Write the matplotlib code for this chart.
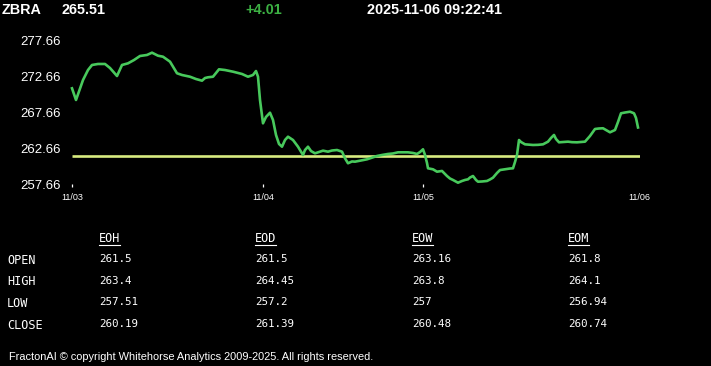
import matplotlib
matplotlib.use("Agg")
import matplotlib.pyplot as plt
from matplotlib.lines import Line2D

W, H = 711, 366
DPI = 100

# header
symbol = "ZBRA"
last_price = "265.51"
change = "+4.01"
stamp = "2025-11-06 09:22:41"

# intraday series (time index along the session axis, price)
t = [0, 4, 11, 16, 20, 26, 33, 38, 45, 50, 56, 62, 68, 75, 80, 86, 91, 98, 105, 110,
     118, 124, 130, 133, 136, 141, 147, 153, 161, 170, 176, 181, 184, 186, 188, 191,
     194, 198, 201, 204, 207, 210, 213, 216, 221, 226, 231, 233, 236, 239, 243, 247,
     251, 256, 260, 265, 270, 273, 276, 280, 283, 289, 295, 299, 305, 310, 316, 321,
     326, 331, 336, 341, 345, 348, 351, 353, 355, 356, 361, 365, 370, 375, 378, 381,
     386, 390, 393, 396, 398, 401, 404, 406, 410, 415, 418, 421, 425, 428, 435, 438,
     441, 443, 445, 447, 449, 453, 461, 466, 471, 476, 479, 482, 484, 487, 491, 496,
     500, 505, 509, 513, 518, 523, 527, 531, 535, 538, 543, 546, 549, 553, 558, 562,
     564, 566]
price = [270.95, 269.33, 272.10, 273.49, 274.19, 274.33, 274.33, 273.77, 272.66, 274.19,
         274.42, 274.88, 275.44, 275.58, 275.90, 275.48, 275.34, 274.65, 273.04, 272.80,
         272.56, 272.24, 272.01, 272.38, 272.48, 272.56, 273.59, 273.49, 273.26, 272.94,
         272.56, 272.80, 273.35, 272.56, 269.33, 266.09, 266.97, 267.56, 266.55, 264.47,
         263.22, 262.84, 263.77, 264.23, 263.77, 262.84, 261.69, 262.38, 262.84, 262.24,
         261.92, 262.10, 262.29, 262.15, 262.31, 262.38, 262.15, 261.23, 260.54, 260.79,
         260.76, 260.92, 261.09, 261.27, 261.55, 261.69, 261.83, 261.90, 262.06, 262.06,
         262.06, 261.97, 261.83, 262.10, 262.48, 261.69, 260.58, 259.84, 259.70, 259.37,
         259.47, 258.77, 258.42, 258.22, 257.84, 258.08, 258.22, 258.31, 258.56, 258.77,
         258.22, 257.98, 258.01, 258.08, 258.29, 258.54, 259.19, 259.60, 259.74, 259.81,
         259.84, 260.72, 261.69, 263.77, 263.49, 263.17, 263.08, 263.10, 263.17, 263.54,
         264.05, 264.47, 263.91, 263.45, 263.49, 263.54, 263.47, 263.45, 263.49, 263.54,
         264.33, 265.30, 265.37, 265.40, 265.09, 264.84, 265.16, 266.27, 267.48, 267.59,
         267.70, 267.48, 266.83, 265.51]
ref_level = 261.5

y_ticks = [257.66, 262.66, 267.66, 272.66, 277.66]
day_pos = [0, 191, 351, 567]
day_labels = ["11/03", "11/04", "11/05", "11/06"]

# summary table
columns = ["EOH", "EOD", "EOW", "EOM"]
rows = ["OPEN", "HIGH", "LOW", "CLOSE"]
eoh = ["261.5", "263.4", "257.51", "260.19"]
eod = ["261.5", "264.45", "257.2", "261.39"]
eow = ["263.16", "263.8", "257", "260.48"]
eom = ["261.8", "264.1", "256.94", "260.74"]

footer = "FractonAI \u00a9 copyright Whitehorse Analytics 2009-2025. All rights reserved."

GREEN = "#48c95c"
YELLOW = "#d8ec80"


def fx(px):
    return px / W


def fy(py):
    return 1 - py / H


fig = plt.figure(figsize=(W / DPI, H / DPI), dpi=DPI, facecolor="black")

ax = fig.add_axes([fx(72), fy(184), 568 / W, 144 / H])
ax.set_facecolor("black")
ax.plot(t, price, color=GREEN, lw=1.9, solid_joinstyle="round", clip_on=False, zorder=3)
ax.hlines(ref_level, 0, 568, color=YELLOW, lw=1.9, zorder=2)
ax.set_xlim(0, 568)
ax.set_ylim(y_ticks[0], y_ticks[-1])
for s in ax.spines.values():
    s.set_visible(False)
ax.set_yticks(y_ticks)
ax.set_yticklabels([f"{v:.2f}" for v in y_ticks])
ax.tick_params(axis="y", length=0, pad=8, labelsize=9.5, labelcolor="white")
ax.set_xticks(day_pos)
ax.set_xticklabels(day_labels)
ax.tick_params(axis="x", direction="out", length=2.3, width=0.9, color="white",
               pad=4.2, labelsize=6.5, labelcolor="white")
ax.xaxis.get_major_ticks()[-1].tick1line.set_visible(False)
for lab in ax.get_yticklabels() + ax.get_xticklabels():
    lab.set_family("Liberation Sans")

# header line
hdr = dict(fontsize=10.4, fontweight="bold", family="Liberation Sans", va="baseline")
fig.text(fx(2), fy(14.5), symbol, color="white", **hdr)
fig.text(fx(61), fy(14.5), last_price, color="white", **hdr)
fig.text(fx(245), fy(14.5), change, color="#3cb043", **hdr)
fig.text(fx(367), fy(14.5), stamp, color="white", **hdr)

# table
col_x = [99, 255, 412, 568]
label_y = [264, 285, 307, 329]
value_y = [262, 283.5, 305, 327]
mono = "DejaVu Sans Mono"
heads = []
for name, x in zip(columns, col_x):
    heads.append(fig.text(fx(x), fy(242.5), name, color="white", fontsize=8.6,
                          family=mono, va="baseline"))
for r, y in zip(rows, label_y):
    fig.text(fx(7), fy(y), r, color="white", fontsize=8.6, family=mono, va="baseline")
for vals, x in zip([eoh, eod, eow, eom], col_x):
    for v, y in zip(vals, value_y):
        fig.text(fx(x), fy(y), v, color="white", fontsize=7.8, family=mono,
                 va="baseline")

fig.canvas.draw()
rend = fig.canvas.get_renderer()
for h in heads:
    bb = h.get_window_extent(rend)
    fig.add_artist(Line2D([bb.x0 / W, bb.x1 / W], [fy(244.5), fy(244.5)],
                          transform=fig.transFigure, color="white", lw=0.8))

fig.text(fx(9), fy(360), footer, color="white", fontsize=7.9,
         family="Liberation Sans", va="baseline")

fig.savefig("out.png", dpi=DPI, facecolor="black")
